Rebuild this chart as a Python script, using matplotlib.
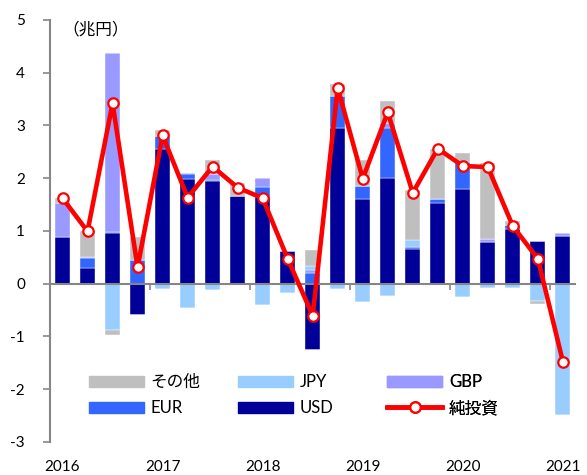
import matplotlib
matplotlib.use('Agg')
import matplotlib.pyplot as plt
import numpy as np
from matplotlib.patches import Patch
from matplotlib.lines import Line2D

years = ['2016', '2017', '2018', '2019', '2020', '2021']

# quarterly values, 2016Q1 .. 2021Q1 (trillion yen)
usd = [0.89, 0.29, 0.96, -0.59, 2.55, 1.98, 1.94, 1.67, 1.65, 0.62, -1.26,
       2.95, 1.61, 2.00, 0.65, 1.53, 1.80, 0.79, 1.04, 0.81, 0.90]
eur = [0.00, 0.19, 0.02, 0.44, 0.25, 0.09, 0.03, 0.00, 0.19, 0.00, 0.21,
       0.61, 0.24, 0.95, 0.04, 0.08, 0.51, 0.00, 0.07, 0.00, 0.00]
gbp = [0.64, 0.03, 3.39, 0.00, 0.00, 0.02, 0.10, -0.03, 0.17, 0.00, 0.04,
       0.00, 0.00, 0.09, -0.02, 0.00, 0.00, 0.05, 0.00, 0.00, 0.06]
jpy = [-0.03, -0.02, -0.88, 0.00, -0.11, -0.46, -0.13, 0.00, -0.40, -0.17, 0.09,
       -0.10, -0.34, -0.23, 0.14, 0.00, -0.25, -0.08, -0.08, -0.33, -2.50]
other = [0.10, 0.49, -0.09, 0.45, 0.12, 0.00, 0.28, 0.23, 0.00, 0.00, 0.30,
         0.23, 0.49, 0.42, 0.94, 0.95, 0.17, 1.45, 0.07, -0.06, 0.00]
net = [1.62, 0.99, 3.42, 0.31, 2.81, 1.63, 2.22, 1.82, 1.62, 0.47, -0.61,
       3.71, 1.99, 3.25, 1.72, 2.56, 2.23, 2.21, 1.09, 0.47, -1.48]

names = ['USD', 'EUR', 'GBP', 'JPY', 'その他']
colors = ['#000099', '#3366FF', '#9999FF', '#99CCFF', '#BFBFBF']
series = [usd, eur, gbp, jpy, other]

plt.rcParams['font.family'] = ['Lato', 'Noto Sans CJK JP', 'DejaVu Sans']
plt.rcParams['axes.unicode_minus'] = False

fig = plt.figure(figsize=(5.87, 4.75), dpi=100)
ax = fig.add_axes([0.0852, 0.070, 0.895, 0.888])

x = np.arange(len(usd))
pos_base = np.zeros(len(x))
neg_base = np.zeros(len(x))
for vals, col in zip(series, colors):
    v = np.array(vals)
    p = np.where(v > 0, v, 0)
    q = np.where(v < 0, v, 0)
    ax.bar(x, p, 0.6, bottom=pos_base, color=col, edgecolor='white', linewidth=0.3)
    ax.bar(x, q, 0.6, bottom=neg_base, color=col, edgecolor='white', linewidth=0.3)
    pos_base += p
    neg_base += q

ax.plot(x, net, color='#FF0000', lw=3.3, marker='o', ms=7.5,
        mfc='white', mec='#FF0000', mew=1.6, zorder=5, clip_on=False)

gray = '#868686'
ax.set_xlim(-0.5, len(x) - 0.5)
ax.set_ylim(-3, 5)
ax.set_yticks(range(-3, 6))
ax.tick_params(axis='y', length=5, width=1.2, color=gray, pad=13, labelsize=11)
ax.spines['left'].set_color(gray)
ax.spines['left'].set_linewidth(1.5)
ax.spines['top'].set_visible(False)
ax.spines['right'].set_visible(False)
ax.spines['bottom'].set_position(('data', 0))
ax.spines['bottom'].set_color(gray)
ax.spines['bottom'].set_linewidth(1.5)
ax.set_xticks([3.5, 7.5, 11.5, 15.5, 19.5])
ax.tick_params(axis='x', length=4, width=1.2, color=gray, labelbottom=False)

sec = ax.secondary_xaxis('bottom')
sec.set_xticks(x[::4], years)
sec.tick_params(length=0, pad=13, labelsize=11)
sec.spines['bottom'].set_visible(False)

ax.text(0.024, 0.997, '（兆円）', transform=ax.transAxes, ha='left', va='top',
        fontsize=12, family=['Noto Sans CJK JP', 'DejaVu Sans'])

# legend: three columns, two rows
cols = [
    [(Patch(color=colors[4]), 'その他'), (Patch(color=colors[1]), 'EUR')],
    [(Patch(color=colors[3]), 'JPY'), (Patch(color=colors[0]), 'USD')],
    [(Patch(color=colors[2]), 'GBP'),
     (Line2D([], [], color='#FF0000', lw=3.3, marker='o', ms=7.5, mfc='white',
             mec='#FF0000', mew=1.6), '純投資')],
]
xs = [0.0743, 0.358, 0.642]
for cx, entries in zip(xs, cols):
    leg = ax.legend([e[0] for e in entries], [e[1] for e in entries],
                    loc='upper left', bbox_to_anchor=(cx, 0.16), frameon=False,
                    borderpad=0, borderaxespad=0, handlelength=3.3, handleheight=0.7,
                    handletextpad=0.4, labelspacing=0.6, fontsize=12)
    ax.add_artist(leg)

fig.savefig('out.png', dpi=100)
